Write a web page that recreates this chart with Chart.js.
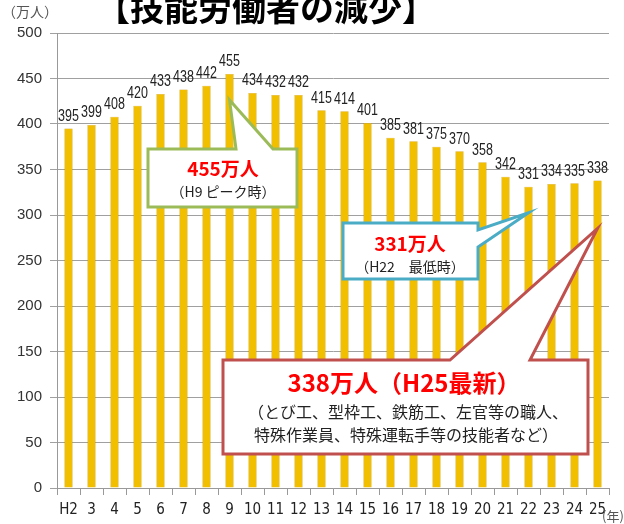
<!DOCTYPE html>
<html>
<head>
<meta charset="utf-8">
<script src="https://cdn.jsdelivr.net/npm/chart.js@4"></script>
<style>
  body { margin: 0; background: #fff; }
  canvas { display: block; }
</style>
</head>
<body>
<canvas id="myChart" width="624" height="524"></canvas>
<script>
// 技能労働者数（万人）H2〜H25
const years = ['H2', '3', '4', '5', '6', '7', '8', '9', '10', '11', '12', '13',
               '14', '15', '16', '17', '18', '19', '20', '21', '22', '23', '24', '25'];
const workers = [395, 399, 408, 420, 433, 438, 442, 455, 434, 432, 432, 415,
                 414, 401, 385, 381, 375, 370, 358, 342, 331, 334, 335, 338];
const yTicks = [0, 50, 100, 150, 200, 250, 300, 350, 400, 450, 500];

const NARROW = "'Liberation Sans Narrow', 'DejaVu Sans Condensed', sans-serif";
const JP = "'Noto Sans CJK JP', sans-serif";

// bar fill: cylinder look
function barFill(context) {
  const chart = context.chart;
  const el = context.element;
  if (!el || el.x === undefined) return '#F2BE00';
  const w = el.width || 8;
  const g = chart.ctx.createLinearGradient(el.x - w / 2, 0, el.x + w / 2, 0);
  g.addColorStop(0, '#D9A200');
  g.addColorStop(0.35, '#FFD21F');
  g.addColorStop(0.6, '#F5BF00');
  g.addColorStop(1, '#C99300');
  return g;
}

// values above each bar (squeezed a bit like the original)
const valueLabels = {
  id: 'valueLabels',
  afterDatasetsDraw(chart) {
    const ctx = chart.ctx;
    const meta = chart.getDatasetMeta(0);
    const sx = 0.78;
    meta.data.forEach((bar, i) => {
      ctx.save();
      ctx.translate(bar.x, bar.y - 4);
      ctx.scale(sx, 1);
      ctx.font = '16px ' + "'Liberation Sans', Arial, sans-serif";
      ctx.fillStyle = '#222';
      ctx.textAlign = 'center';
      ctx.textBaseline = 'bottom';
      ctx.fillText(String(workers[i]), 0, 0);
      ctx.restore();
    });
  }
};

function drawBox(ctx, pts, stroke) {
  ctx.save();
  ctx.beginPath();
  pts.forEach((p, i) => i ? ctx.lineTo(p[0], p[1]) : ctx.moveTo(p[0], p[1]));
  ctx.closePath();
  ctx.fillStyle = '#fff';
  ctx.fill();
  ctx.lineWidth = 3;
  ctx.lineJoin = 'miter';
  ctx.strokeStyle = stroke;
  ctx.stroke();
  ctx.restore();
}

function text(ctx, s, x, y, font, color) {
  ctx.font = font;
  ctx.fillStyle = color;
  ctx.textAlign = 'center';
  ctx.textBaseline = 'middle';
  ctx.fillText(s, x, y);
}

// title, units and callouts
const decorations = {
  id: 'decorations',
  afterDraw(chart) {
    const ctx = chart.ctx;
    const xs = chart.scales.x, ys = chart.scales.y;
    ctx.save();

    ctx.font = 'bold 34px ' + JP;
    ctx.fillStyle = '#000';
    ctx.textAlign = 'center';
    ctx.textBaseline = 'alphabetic';
    ctx.fillText('【技能労働者の減少】', 266, 21);

    ctx.font = '14px ' + JP;
    ctx.fillStyle = '#555';
    ctx.textAlign = 'left';
    ctx.textBaseline = 'middle';
    ctx.fillText('（万人）', 2, 12);
    ctx.font = '13px ' + JP;
    ctx.fillText('(年)', 602, 516);

    // H9 peak
    let i = 7;
    let tx = xs.getPixelForValue(i), ty = ys.getPixelForValue(workers[i]) + 26;
    drawBox(ctx, [[148, 149], [236, 149], [tx, ty], [273, 149], [297, 149], [297, 207], [148, 207]], '#9BBB59');
    text(ctx, workers[i] + '万人', 223, 169, 'bold 19px ' + JP, '#FF0000');
    text(ctx, '（H9 ピーク時）', 223, 192, '14px ' + JP, '#222');

    // H22 lowest
    i = 20;
    tx = xs.getPixelForValue(i); ty = ys.getPixelForValue(workers[i]) + 26;
    drawBox(ctx, [[343, 223], [478, 223], [478, 230], [tx, ty], [478, 247], [478, 279], [343, 279]], '#4BACC6');
    text(ctx, workers[i] + '万人', 410, 244, 'bold 19px ' + JP, '#FF0000');
    text(ctx, '（H22　最低時）', 410, 267, '14px ' + JP, '#222');

    // H25 latest
    i = 23;
    tx = xs.getPixelForValue(i); ty = ys.getPixelForValue(workers[i]) + 48;
    drawBox(ctx, [[223, 360], [450, 360], [tx, ty], [530, 360], [588, 360], [588, 454], [223, 454]], '#C0504D');
    text(ctx, workers[i] + '万人（H25最新）', 404, 383, 'bold 24px ' + JP, '#FF0000');
    text(ctx, '（とび工、型枠工、鉄筋工、左官等の職人、', 408, 412, '16px ' + JP, '#222');
    text(ctx, '特殊作業員、特殊運転手等の技能者など）', 406, 435, '16px ' + JP, '#222');

    ctx.restore();
  }
};

var ctx = document.getElementById('myChart').getContext('2d');
var myChart = new Chart(ctx, {
  type: 'bar',
  data: {
    labels: years,
    datasets: [{
      label: '技能労働者数',
      data: workers,
      backgroundColor: barFill,
      borderColor: '#C99300',
      borderWidth: 0.5,
      barPercentage: 0.36,
      categoryPercentage: 1
    }]
  },
  options: {
    responsive: false,
    animation: false,
    devicePixelRatio: 1,
    layout: { padding: { top: 33, left: 0, right: 15, bottom: 0 } },
    plugins: {
      legend: { display: false },
      tooltip: { enabled: false }
    },
    scales: {
      x: {
        afterFit: s => { s.height = 36; },
        grid: { display: true, drawOnChartArea: false, offset: true, color: '#999', tickLength: 7 },
        border: { color: '#999' },
        ticks: {
          color: '#222',
          font: { family: NARROW, size: 15 },
          padding: 6,
          maxRotation: 0,
          autoSkip: false
        }
      },
      y: {
        min: 0,
        max: 500,
        afterFit: s => { s.width = 57; },
        afterBuildTicks: s => { s.ticks = yTicks.map(v => ({ value: v })); },
        grid: { color: '#A0A0A0', tickLength: 7 },
        border: { color: '#999' },
        ticks: {
          color: '#333',
          font: { family: "'Liberation Sans', Arial, sans-serif", size: 15 },
          padding: 8
        }
      }
    }
  },
  plugins: [valueLabels, decorations]
});
</script>
</body>
</html>
